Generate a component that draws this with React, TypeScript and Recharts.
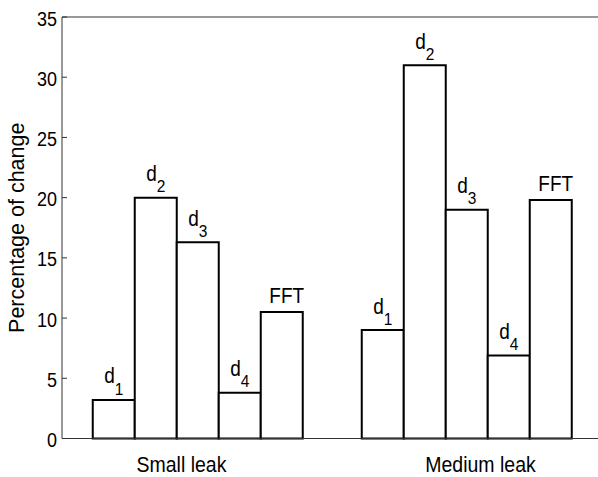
import { Bar, BarChart, LabelList, ReferenceLine, XAxis, YAxis } from "recharts";

const categories = ["Small leak", "Medium leak"];
const d1 = [3.2, 9.0];
const d2 = [20.0, 31.0];
const d3 = [16.3, 19.0];
const d4 = [3.8, 6.9];
const fft = [10.5, 19.8];
const yTicks = [0, 5, 10, 15, 20, 25, 30, 35];

const series = [
  { key: "d1", base: "d", sub: "1", values: d1 },
  { key: "d2", base: "d", sub: "2", values: d2 },
  { key: "d3", base: "d", sub: "3", values: d3 },
  { key: "d4", base: "d", sub: "4", values: d4 },
  { key: "fft", base: "FFT", sub: "", values: fft },
];

const data = categories.map((name, i) => {
  const row: Record<string, string | number> = { name };
  series.forEach((s) => {
    row[s.key] = s.values[i];
  });
  return row;
});

const FONT = "'Liberation Sans', Arial, Helvetica, sans-serif";
// the source image looks a bit stretched vertically, so text gets a small y-scale
const SY = 1.12;

const StretchText = ({ x, y, size, anchor = "middle", children }: any) => (
  <text
    transform={`translate(${x},${y}) scale(1,${SY})`}
    x={0}
    y={0}
    textAnchor={anchor}
    fontSize={size}
    fill="#000"
    fontFamily={FONT}
  >
    {children}
  </text>
);

const makeLabel = (base: string, sub: string) => (props: any) => {
  const x = Number(props.x);
  const y = Number(props.y);
  const w = Number(props.width);
  const cx = x + w / 2;
  if (!sub) {
    return (
      <StretchText x={cx + 5} y={y - 9.5} size={19}>
        {base}
      </StretchText>
    );
  }
  return (
    <StretchText x={cx} y={y - 16.5} size={19}>
      <tspan>{base}</tspan>
      <tspan dy={10} fontSize={15.5}>
        {sub}
      </tspan>
    </StretchText>
  );
};

const labelShift = [-15, 15];

const CategoryTick = (props: any) => {
  const { x, payload, index } = props;
  // anchored to the axis line (plot bottom) rather than the default tick offset
  const base = 438.5;
  return (
    <StretchText x={Number(x) + labelShift[index]} y={base + 33} size={19.5}>
      {payload.value}
    </StretchText>
  );
};

const ValueTick = (props: any) => {
  const { x, y, payload } = props;
  return (
    <StretchText x={Number(x)} y={Number(y) + 8.5} size={18} anchor="end">
      {payload.value}
    </StretchText>
  );
};

export default function App() {
  return (
    <div
      style={{
        position: "absolute",
        left: 0,
        top: 0,
        width: 598,
        height: 477,
        overflow: "hidden",
        background: "#fff",
      }}
    >
      <BarChart
        width={620}
        height={477}
        data={data}
        margin={{ top: 17, right: 0, bottom: 37.5, left: 0 }}
        barCategoryGap={30.75}
        barGap={0}
      >
        <XAxis
          dataKey="name"
          height={1}
          stroke="#333"
          tickLine={false}
          tick={<CategoryTick />}
        />
        <YAxis
          yAxisId="left"
          width={62}
          domain={[0, 35]}
          ticks={yTicks}
          stroke="#333"
          tickSize={-5}
          tickMargin={10}
          tick={<ValueTick />}
          label={{
            value: "Percentage of change",
            angle: -90,
            position: "insideLeft",
            dx: 11,
            style: { textAnchor: "middle", fill: "#000", fontSize: 21.5, fontFamily: FONT },
          }}
        />
        <YAxis
          yAxisId="right"
          orientation="right"
          width={20}
          domain={[0, 35]}
          ticks={yTicks}
          stroke="#333"
          tickSize={-5}
          tickFormatter={() => ""}
        />
        <ReferenceLine yAxisId="left" y={35} stroke="#333" strokeWidth={1} />
        {series.map((s) => (
          <Bar
            key={s.key}
            yAxisId="left"
            dataKey={s.key}
            fill="#fff"
            stroke="#000"
            strokeWidth={2}
            isAnimationActive={false}
          >
            <LabelList dataKey={s.key} content={makeLabel(s.base, s.sub)} />
          </Bar>
        ))}
      </BarChart>
    </div>
  );
}
